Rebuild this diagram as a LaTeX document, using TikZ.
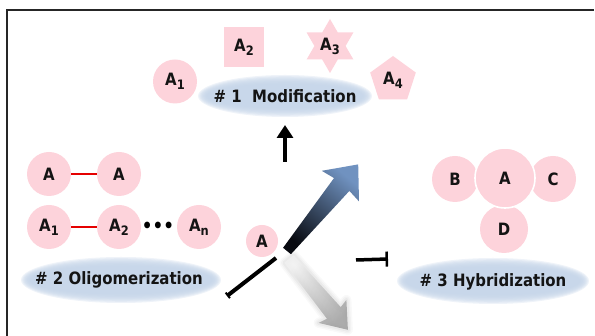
\documentclass[tikz,border=0pt]{standalone}
\usepackage{fontspec}
\setmainfont{DejaVu Sans}[FakeStretch=0.88]
\usetikzlibrary{shapes.geometric,arrows.meta}
\definecolor{pinkc}{RGB}{253,211,219}
\definecolor{ellc}{RGB}{196,212,232}
\definecolor{tipc}{RGB}{112,146,192}
\definecolor{tailc}{RGB}{8,10,16}
\definecolor{shc}{RGB}{160,160,160}
\newcommand\mysub[1]{\raisebox{-4pt}{\fontsize{13}{13}\selectfont #1}}
\begin{document}
\begin{tikzpicture}[x=1pt,y=1pt,
  txt/.style={font=\fontsize{17}{20}\selectfont\bfseries, text=black!92, inner sep=0},
  pc/.style={circle, fill=pinkc, minimum size=44pt, inner sep=0, txt},
  ellnode/.style={ellipse, inner sep=0, txt},
  link/.style={red!90!black, line width=1.3pt},
  blk/.style={black, line width=4pt},
]
\useasboundingbox (0,0) rectangle (595,336);
% frame
\draw[line width=1.3pt, black!85] (7,0) -- (7,326) -- (594,326);

% soft label ellipses
\foreach \cx/\cy/\rx/\ry in {285/240/87/21, 121/56/100/23, 493/55/96/23}{
  \foreach \k in {0,...,7}{
    \fill[ellc, opacity=0.28] (\cx,\cy) ellipse [x radius=\rx-1.2*\k, y radius=\ry-1.2*\k];
  }
}
\node[ellnode, minimum width=174pt, minimum height=42pt] (mod) at (285,240) {\# 1~\ Modification};
\node[ellnode, minimum width=200pt, minimum height=46pt] (oli) at (119,56) {\# 2~Oligomerization};
\node[ellnode, minimum width=192pt, minimum height=46pt] (hyb) at (493,54) {\# 3~Hybridization};

% modification
\node[pc] (m1) at (175,254.5) {A\mysub{1}};
\node[rectangle, fill=pinkc, minimum size=40pt, inner sep=0, txt] (m2) at (244,289) {A\mysub{2}};
\fill[pinkc] (330,317) -- (337.8,303.5) -- (353.4,303.5) -- (345.6,290) -- (353.4,276.5) -- (337.8,276.5)
  -- (330,263) -- (322.2,276.5) -- (306.6,276.5) -- (314.4,290) -- (306.6,303.5) -- (322.2,303.5) -- cycle;
\node[txt] (m3) at (330,290) {A\mysub{3}};
\node[regular polygon, regular polygon sides=5, minimum size=48pt, inner sep=0, fill=pinkc, txt] (m4) at (393,256) {A\mysub{4}};

% oligomerization
\node[pc] (o1) at (49,162) {A};
\node[pc] (o2) at (119,162) {A};
\node[pc] (o3) at (49,109) {A\mysub{1}};
\node[pc] (o4) at (119,109) {A\mysub{2}};
\node[pc] (o5) at (199,109) {A\mysub{n}};
\node[font=\fontsize{19}{19}\selectfont\bfseries, inner sep=0] (dots) at (158,109) {•••};
\draw[link] (o1.east) -- (o2.west);
\draw[link] (o3.east) -- (o4.west);

% hybridization
\node[pc, minimum size=46pt] (hB) at (455,157) {B};
\node[pc, minimum size=46pt] (hC) at (553,157) {C};
\node[pc, minimum size=48pt] (hD) at (504,107) {D};
\node[pc, minimum size=60pt, draw=white, line width=1.6pt] (hA) at (505,158) {A};

% shadow arrow
\foreach \w/\o in {10/0.06,7/0.08,4/0.10}{
  \draw[shc, line width=\w pt, opacity=\o, line join=round]
    (284.4,73.2) -- (326.9,17.3) -- (318.6,13.1) -- (347.9,6.2) -- (346.4,36.1) -- (340.7,28.9) -- (293.6,80.8) -- cycle;
}
\shade[top color=black!6, bottom color=black!38, shading angle=40, opacity=0.85]
    (284.4,73.2) -- (326.9,17.3) -- (318.6,13.1) -- (347.9,6.2) -- (346.4,36.1) -- (340.7,28.9) -- (293.6,80.8) -- cycle;

% central A
\node[pc, minimum size=32pt] (ca) at (262,95) {A};

% gradient arrow
\shade[top color=tipc, bottom color=tailc, shading angle=-39.5]
  (283.1,88.2) -- (334.0,157.9) -- (321.8,165.2) -- (358.2,171.6) -- (359.0,134.6) -- (349.4,145.1) -- (290.9,81.8) -- cycle;

% black connectors
\coordinate (upS) at (285,174);
\coordinate (upE) at (285,211);
\draw[blk, -{Triangle[width=16pt,length=13pt]}] (upS) -- (upE);
\coordinate (llS) at (276,78);
\coordinate (llE) at (227,40);
\draw[blk, -{Bar[width=7pt,line width=2pt]}] (llS) -- (llE);
\coordinate (rS) at (356,76);
\coordinate (rE) at (388,77);
\draw[black, line width=3.5pt, -{Bar[width=15pt,line width=2.5pt]}] (rS) -- (rE);
\end{tikzpicture}
\end{document}
